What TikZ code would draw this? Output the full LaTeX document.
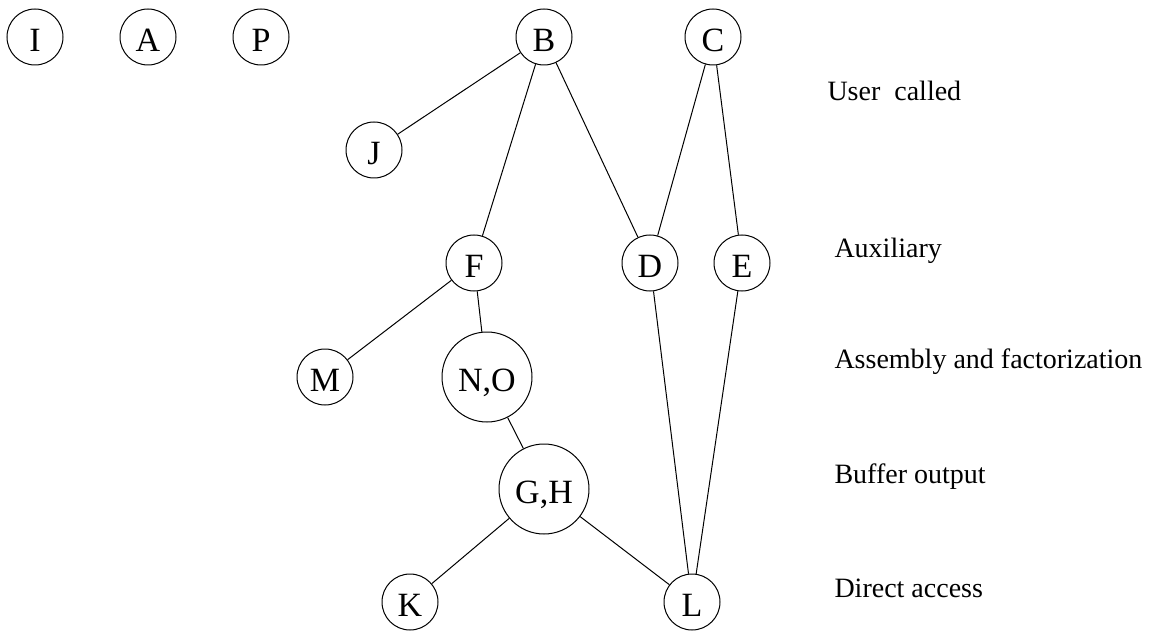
\documentclass[tikz,border=0pt]{standalone}
\usepackage{fontspec}
\setmainfont{Liberation Serif}
\begin{document}
\begin{tikzpicture}[x=1pt,y=-1pt,
  every path/.style={line width=1pt},
  small/.style={draw,circle,line width=1pt,inner sep=0pt,minimum size=56pt,
    font=\fontsize{34}{40}\selectfont,text height=29.5pt,text depth=0pt},
  big/.style={small,minimum size=90pt},
  lvl/.style={anchor=base west,inner sep=0pt,font=\fontsize{28}{34}\selectfont},
  edge/.style={draw,line width=1pt}]
\useasboundingbox (0,0) rectangle (1151,631);
\node[small] (I) at (35,37) {I};
\node[small] (A) at (148,37) {A};
\node[small] (P) at (261,37) {P};
\node[small] (B) at (544,37) {B};
\node[small] (C) at (713,37) {C};
\node[small] (J) at (374,150) {J};
\node[small] (F) at (474,263) {F};
\node[small] (D) at (650,263) {D};
\node[small] (E) at (742,263) {E};
\node[small] (M) at (325,377) {M};
\node[big] (NO) at (487,377) {N,O};
\node[big] (GH) at (544,489) {G,H};
\node[small] (K) at (410,602) {K};
\node[small] (L) at (692,602) {L};
\draw[edge] (B) -- (J);
\draw[edge] (B) -- (F);
\draw[edge] (B) -- (D);
\draw[edge] (C) -- (D);
\draw[edge] (C) -- (E);
\draw[edge] (F) -- (M);
\draw[edge] (F) -- (NO);
\draw[edge] (NO) -- (GH);
\draw[edge] (D) -- (L);
\draw[edge] (E) -- (L);
\draw[edge] (GH) -- (K);
\draw[edge] (GH) -- (L);
\node[lvl] (l1) at (827,101) {User\ \ called};
\node[lvl] (l2) at (834,257) {Auxiliary};
\node[lvl] (l3) at (834,368) {Assembly and factorization};
\node[lvl] (l4) at (834,483) {Buffer output};
\node[lvl] (l5) at (834,597) {Direct access};
\end{tikzpicture}
\end{document}
